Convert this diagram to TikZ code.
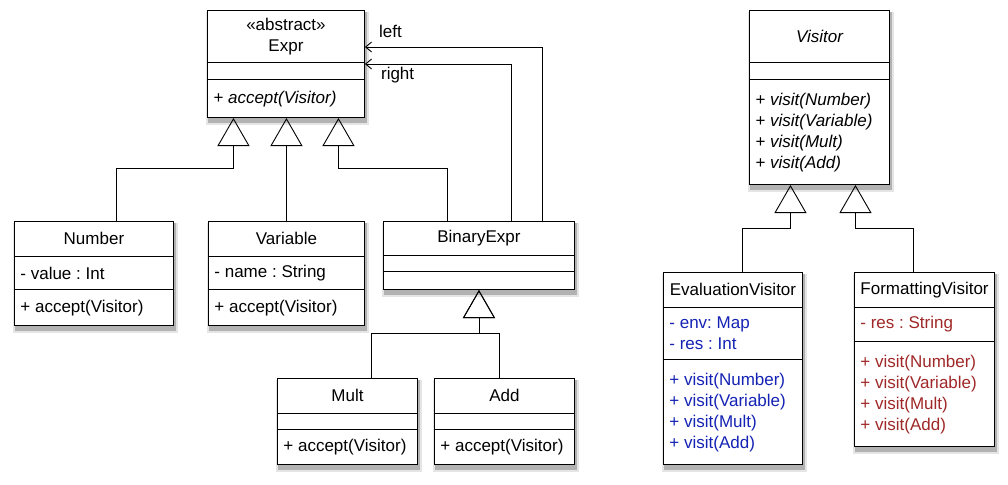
\documentclass[tikz,border=0pt]{standalone}
\usepackage{fontspec}
\setmainfont{Liberation Sans}
\usepackage{tikz}
\usetikzlibrary{shapes.multipart,arrows.meta,backgrounds}

\definecolor{evalblue}{RGB}{20,35,180}
\definecolor{fmtred}{RGB}{160,40,40}

\newcommand{\namepart}[3]{\parbox[c][\dimexpr#1pt-1.2pt\relax][c]{#2pt}{\centering #3}}
\newcommand{\listpart}[3]{\parbox[c][\dimexpr#1pt-1.2pt\relax][c]{#2pt}{\raggedright #3}}

\begin{document}
\frenchspacing
\begin{tikzpicture}[x=1pt,y=-1pt,
	cls/.style={rectangle split, rectangle split parts=3, draw, fill=white, anchor=north west,
		inner xsep=6pt, inner ysep=0pt, line width=0.9pt, font=\fontsize{17}{21}\selectfont},
	inherit/.style={line width=0.9pt, -{Triangle[open, width=32pt, length=28pt]}},
	assoc/.style={line width=0.9pt, -{Straight Barb[length=6pt, width=10pt]}},
	role/.style={anchor=west, inner sep=0pt, font=\fontsize{17}{21}\selectfont}]
	\useasboundingbox (0,0) rectangle (1008,484);
	% expression classes
	\node[cls] (expr) at (207,10) {\namepart{52}{145}{«abstract»\\Expr}
		\nodepart{two}\namepart{18}{145}{}
		\nodepart{three}\listpart{38}{145}{\itshape + accept(Visitor)}};
	\node[cls] (number) at (14,221) {\namepart{35}{147}{Number}
		\nodepart{two}\listpart{34}{147}{- value : Int}
		\nodepart{three}\listpart{36}{147}{+ accept(Visitor)}};
	\node[cls] (variable) at (208,221) {\namepart{35}{144}{Variable}
		\nodepart{two}\listpart{34}{144}{- name : String}
		\nodepart{three}\listpart{36}{144}{+ accept(Visitor)}};
	\node[cls] (binary) at (383,221) {\namepart{34}{179}{BinaryExpr}
		\nodepart{two}\namepart{17}{179}{}
		\nodepart{three}\namepart{18}{179}{}};
	\node[cls] (mult) at (277,378) {\namepart{35}{128}{Mult}
		\nodepart{two}\namepart{17}{128}{}
		\nodepart{three}\listpart{35}{128}{+ accept(Visitor)}};
	\node[cls] (add) at (434,378) {\namepart{35}{128}{Add}
		\nodepart{two}\namepart{17}{128}{}
		\nodepart{three}\listpart{35}{128}{+ accept(Visitor)}};
	% visitor classes
	\node[cls] (visitor) at (749,10) {\namepart{52}{128}{\itshape Visitor}
		\nodepart{two}\namepart{18}{128}{}
		\nodepart{three}\listpart{105}{128}{\itshape + visit(Number)\\+ visit(Variable)\\+ visit(Mult)\\+ visit(Add)}};
	\node[cls] (eval) at (663,272) {\namepart{35}{127}{EvaluationVisitor}
		\nodepart{two}\listpart{53}{127}{\color{evalblue}- env: Map\\- res : Int}
		\nodepart{three}\listpart{105}{127}{\color{evalblue}+ visit(Number)\\+ visit(Variable)\\+ visit(Mult)\\+ visit(Add)}};
	\node[cls] (fmt) at (854,272) {\namepart{35}{128}{FormattingVisitor}
		\nodepart{two}\listpart{35}{128}{\color{fmtred}- res : String}
		\nodepart{three}\listpart{105}{128}{\color{fmtred}+ visit(Number)\\+ visit(Variable)\\+ visit(Mult)\\+ visit(Add)}};
	% shadows
	\begin{pgfonlayer}{background}
		\foreach \n in {expr,number,variable,binary,mult,add,visitor,eval,fmt} {
			\fill[black!10] ([shift={(-1,2)}]\n.north west) rectangle ([shift={(4,7)}]\n.south east);
			\fill[black!30] ([shift={(1,2)}]\n.north west) rectangle ([shift={(2.5,4.5)}]\n.south east);
		}
	\end{pgfonlayer}
	% generalizations
	\draw[inherit] ([xshift=22.5pt]number.north) |- ([shift={(-52.5,50)}]expr.south) -- ([xshift=-52.5pt]expr.south);
	\draw[inherit] (variable.north) -- (variable.north |- expr.south);
	\draw[inherit] ([xshift=-31.5pt]binary.north) |- ([shift={(52.5,50)}]expr.south) -- ([xshift=52.5pt]expr.south);
	\draw[inherit] ([xshift=24pt]mult.north) |- ([yshift=-43pt]binary.south) -- (binary.south);
	\draw[inherit] ([xshift=-5pt]add.north) |- ([yshift=-43pt]binary.south) -- (binary.south);
	\draw[inherit] ([xshift=9.5pt]eval.north) |- ([shift={(-29,43)}]visitor.south) -- ([xshift=-29pt]visitor.south);
	\draw[inherit] ([xshift=-11pt]fmt.north) |- ([shift={(36,43)}]visitor.south) -- ([xshift=36pt]visitor.south);
	% associations
	\draw[assoc] ([xshift=63.5pt]binary.north) |- ([yshift=-37pt]expr.north east);
	\draw[assoc] ([xshift=32.5pt]binary.north) |- ([yshift=-54pt]expr.north east);
	\node[role] (lleft) at ([shift={(14,21)}]expr.north east) {left};
	\node[role] (lright) at ([shift={(16,65)}]expr.north east) {right};
\end{tikzpicture}
\end{document}
